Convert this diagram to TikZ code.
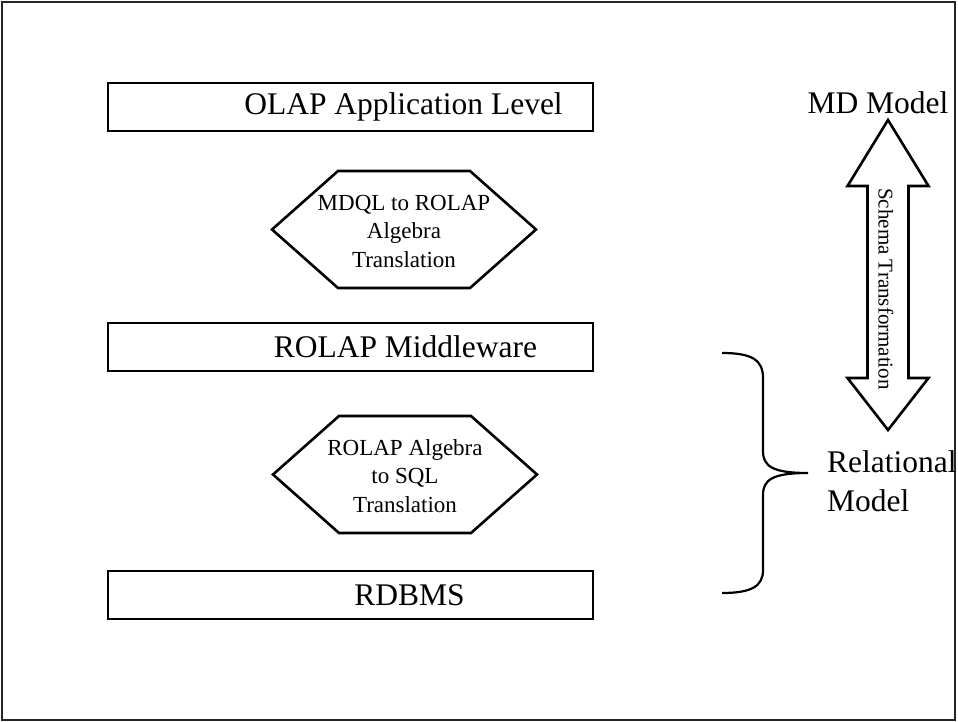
\documentclass[tikz,border=0pt]{standalone}
\usepackage{fontspec}
\setmainfont{Liberation Serif}
\usetikzlibrary{positioning,calc}
\tikzset{>=latex}

\begin{document}
\begin{tikzpicture}[x=1pt,y=-1pt,
  levelbox/.style={draw,line width=2.6pt,minimum width=485pt,minimum height=48pt,inner sep=0pt},
  leveltext/.style={inner sep=0pt,font=\fontsize{31.5}{36}\selectfont},
  transtext/.style={inner sep=0pt,align=center,font=\fontsize{23}{28.5}\selectfont},
  hexa/.style={line width=2.6pt,line join=miter},
  bigtext/.style={font=\fontsize{31.5}{39}\selectfont,inner sep=0pt}]

% frame
\draw[line width=2pt,black!85] (2,2) rectangle (955,720);
\useasboundingbox (0,0) rectangle (958,722);

% levels
\node [levelbox] (olap) at (350.5,107) {};
\node [levelbox] (middle) at (350.5,347) {};
\node [levelbox] (rdbms) at (350.5,595) {};
\node [leveltext] at ([xshift=53]olap.center) {OLAP Application Level};
\node [leveltext] at ([xshift=55]middle.center) {ROLAP Middleware};
\node [leveltext] at ([xshift=59]rdbms.center) {RDBMS};

% translations
\node [transtext] (mdql) at (404,231) {MDQL to ROLAP\\Algebra\\Translation};
\node [transtext] (sqltr) at (405,476) {ROLAP Algebra\\to SQL\\Translation};
\foreach \t in {mdql,sqltr}
  \draw[hexa] ($(\t)+(-132,-1.5)$) -- ($(\t)+(-66,-60)$) -- ($(\t)+(66,-60)$)
    -- ($(\t)+(132,-1.5)$) -- ($(\t)+(66,57)$) -- ($(\t)+(-66,57)$) -- cycle;

% models
\node [bigtext,anchor=base] (md) at (878,114) {MD Model};
\node [bigtext,anchor=west,align=left] (rel) at (827,481) {Relational\\Model};

% schema transformation arrow
\draw[hexa] (888,120) -- (928.5,186) -- (908.5,186) -- (908.5,378)
  -- (928.5,378) -- (888,430) -- (847.5,378) -- (867.5,378) -- (867.5,186)
  -- (847.5,186) -- cycle;
\node [rotate=-90,font=\fontsize{21}{24}\selectfont] (schema) at (886,289) {Schema Transformation};

% brace
\coordinate (bt) at (722,353);
\coordinate (bb) at (722,593);
\draw[line width=2.2pt] (bt) .. controls (752,353) and (763,360) .. (763,378) -- (763,451)
  .. controls (763,466) and (772,473) .. (808,473)
  .. controls (772,473) and (763,480) .. (763,495) -- (763,570)
  .. controls (763,586) and (752,593) .. (bb);

\end{tikzpicture}
\end{document}
